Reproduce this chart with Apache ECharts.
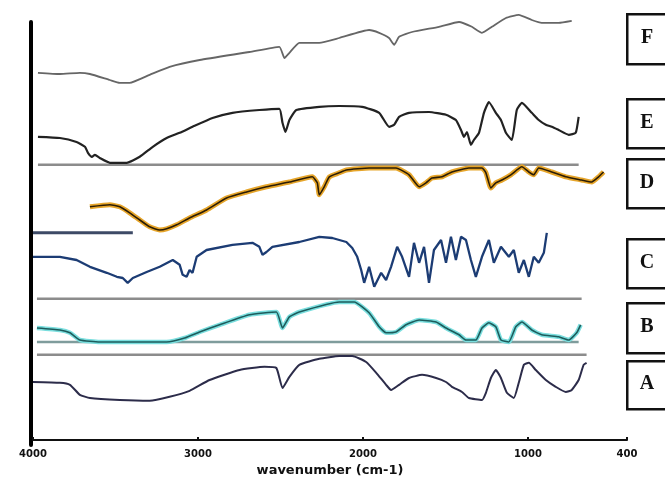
<!DOCTYPE html>
<html>
<head>
<meta charset="utf-8">
<script src="https://cdn.jsdelivr.net/npm/echarts@6/dist/echarts.min.js"></script>
<style>
  html, body { margin: 0; padding: 0; background: #fff; }
  #mainChart { width: 665px; height: 484px; }
</style>
</head>
<body>
<div id="mainChart"></div>
<script>
// wavenumber (cm-1) and stacked transmittance (arbitrary, offset) for each spectrum
var wnF = [3970, 3837, 3716, 3655, 3534, 3474, 3414, 3293, 3172, 2990, 2688, 2507, 2476, 2446, 2386, 2265, 2144, 1963, 1902, 1842, 1811, 1781, 1703, 1539, 1418, 1340, 1279, 1219, 1134, 1056, 977, 917, 814, 735];
var tF = [91.8, 91.5, 91.8, 91.5, 90, 89.3, 89.3, 91.3, 93.3, 95, 97, 98.3, 95.5, 96.8, 99.3, 99.3, 100.5, 102.5, 101.8, 100.5, 98.8, 100.8, 102, 103.3, 104.5, 103.3, 101.8, 103.3, 105.5, 106.3, 105, 104.3, 104.3, 104.8];

var wnE = [3970, 3837, 3736, 3685, 3667, 3643, 3625, 3595, 3534, 3432, 3353, 3274, 3190, 3111, 3033, 2912, 2791, 2628, 2507, 2488, 2470, 2446, 2404, 2265, 2144, 2005, 1902, 1842, 1811, 1781, 1721, 1600, 1497, 1437, 1406, 1388, 1370, 1346, 1328, 1297, 1267, 1237, 1195, 1164, 1134, 1098, 1068, 1037, 977, 935, 892, 856, 814, 753, 711, 693];
var tE = [75.8, 75.5, 74.5, 73.3, 71.8, 70.8, 71.3, 70.5, 69.3, 69.3, 70.8, 73.3, 75.5, 76.8, 78.3, 80.5, 81.8, 82.5, 82.8, 79.3, 77, 80, 82.5, 83.3, 83.5, 83.3, 81.8, 78.3, 78.8, 80.8, 81.8, 82, 81.3, 80, 77.5, 75.8, 77, 73.8, 75, 76.8, 81.8, 84.5, 81.8, 80, 76.8, 75, 82.5, 84.3, 81.8, 80, 78.8, 78.3, 77.5, 76.3, 76.8, 80.8];

var wnD = [3655, 3534, 3474, 3414, 3353, 3293, 3232, 3190, 3129, 3051, 2948, 2827, 2706, 2585, 2446, 2307, 2277, 2265, 2235, 2204, 2144, 2101, 1963, 1800, 1721, 1660, 1618, 1582, 1521, 1461, 1358, 1279, 1255, 1225, 1195, 1158, 1104, 1037, 995, 965, 935, 856, 771, 675, 614, 572, 542];
var tD = [58.3, 58.8, 58.3, 56.8, 55, 53.3, 52.5, 52.8, 53.8, 55.5, 57.5, 60.5, 62, 63.3, 64.5, 65.8, 64.3, 61.3, 63.3, 65.8, 66.8, 67.5, 68, 68, 66.3, 63.3, 64.3, 65.5, 65.8, 67, 68, 68, 66.8, 63, 64.3, 65, 66.3, 68.3, 67, 66.3, 68, 67, 65.8, 65, 64.5, 65.8, 67];

var wnC = [4000, 3837, 3736, 3655, 3553, 3492, 3456, 3426, 3395, 3311, 3232, 3153, 3111, 3093, 3069, 3051, 3033, 3008, 2948, 2791, 2670, 2628, 2609, 2585, 2549, 2386, 2265, 2186, 2101, 2065, 2035, 2011, 1993, 1963, 1932, 1890, 1860, 1830, 1793, 1763, 1721, 1691, 1660, 1630, 1600, 1570, 1527, 1497, 1467, 1437, 1406, 1376, 1346, 1316, 1279, 1237, 1207, 1164, 1116, 1086, 1056, 1025, 995, 965, 935, 904, 886];
var tC = [45.8, 45.8, 45, 43.3, 41.8, 40.8, 40.5, 39.3, 40.5, 42, 43.3, 45, 43.8, 41.3, 40.8, 42.5, 41.8, 45.8, 47.5, 48.8, 49.3, 48.3, 46.3, 47, 48.3, 49.5, 50.8, 50.5, 49.5, 48, 45.8, 42.5, 39.3, 43.3, 38.3, 41.8, 40, 43.3, 48.3, 45.8, 40.8, 49.3, 44.3, 48.3, 39.3, 47.5, 50, 44.3, 50.8, 45, 50.8, 50, 45, 40.8, 45.8, 50, 44.3, 48.3, 45.8, 47.5, 41.8, 45, 40.8, 45.8, 44.3, 46.8, 51.8];

var wnB = [3976, 3837, 3776, 3716, 3595, 3190, 3081, 2990, 2869, 2688, 2525, 2488, 2446, 2386, 2144, 2053, 1963, 1902, 1860, 1800, 1739, 1660, 1557, 1497, 1418, 1376, 1316, 1279, 1237, 1195, 1164, 1116, 1074, 1037, 977, 917, 814, 753, 705, 681];
var tB = [28, 27.5, 26.8, 25, 24.5, 24.5, 25.5, 27, 28.8, 31.3, 32, 28, 30.8, 32, 34.5, 34.5, 31.8, 28.3, 26.8, 27, 28.8, 30, 29.5, 28, 26.3, 25, 25, 28, 29.3, 28.3, 25, 24.5, 28.3, 29.5, 27.5, 26.3, 25.8, 25, 26.8, 28.8];

var wnA = [4000, 3837, 3776, 3716, 3655, 3474, 3293, 3172, 3051, 2930, 2748, 2597, 2525, 2488, 2446, 2386, 2265, 2144, 2065, 1981, 1920, 1860, 1830, 1781, 1721, 1642, 1557, 1497, 1461, 1400, 1358, 1279, 1255, 1225, 1195, 1164, 1128, 1086, 1056, 1025, 995, 953, 892, 832, 771, 735, 693, 663, 645];
var tA = [14.5, 14.3, 13.8, 11.3, 10.5, 10, 9.8, 10.8, 12.3, 15, 17.5, 18.3, 18, 13, 15.8, 18.8, 20.3, 21, 21, 19.5, 16.8, 13.8, 12.5, 13.8, 15.5, 16.3, 15.5, 14.5, 13.3, 12, 10.5, 10, 11.8, 15.5, 17.5, 15.5, 11.8, 10.5, 14.3, 18.8, 19.3, 17.5, 15, 13.3, 12, 12.5, 15, 18.8, 19.3];

// separator lines between the stacked traces: [from, to] wavenumber and level
var sepFrom = [3970, 4000, 3976, 3976, 3976];
var sepTo = [693, 3395, 675, 693, 645];
var sepLevel = [68.8, 51.8, 35.3, 24.5, 21.3];

var xTicks = [4000, 3000, 2000, 1000, 400];
var panelLabels = ["F", "E", "D", "C", "B", "A"];

function pairs(xs, ys) {
  return xs.map(function (x, i) { return [x, ys[i]]; });
}

var chart = echarts.init(document.getElementById("mainChart"));

function trace(data, color, width, z, smooth) {
  return {
    type: "line",
    data: data,
    symbol: "none",
    clip: false,
    smooth: smooth,
    z: z,
    silent: true,
    animation: false,
    lineStyle: { color: color, width: width },
  };
}

var sepColors = ["#8c8c8c", "#3d4a66", "#8c8c8c", "#7f9c9c", "#8c8c8c"];
var sepWidths = [2.5, 3, 2.5, 2.5, 2.5];
var series = [];
sepLevel.forEach(function (lv, i) {
  series.push(trace([[sepFrom[i], lv], [sepTo[i], lv]], sepColors[i], sepWidths[i], 1, false));
});
series.push(trace(pairs(wnF, tF), "#666666", 1.8, 3, 0.15));
series.push(trace(pairs(wnE, tE), "#222222", 2.2, 3, 0.15));
series.push(trace(pairs(wnD, tD), "#e6a52a", 5, 2, 0.15));
series.push(trace(pairs(wnD, tD), "#2b1d05", 1.6, 3, 0.15));
series.push(trace(pairs(wnC, tC), "#1c3c74", 2.3, 3, 0));
series.push(trace(pairs(wnB, tB), "#7adede", 4.5, 2, 0.15));
series.push(trace(pairs(wnB, tB), "#1d5c5c", 1.6, 3, 0.15));
series.push(trace(pairs(wnA, tA), "#2c2c4a", 2, 3, 0.15));

// label boxes at the right
var boxTops = [13, 98, 158, 238, 302, 360];
var boxHeights = [50, 49, 49, 49, 50, 48];
var graphics = [];
panelLabels.forEach(function (lab, i) {
  graphics.push({
    type: "rect",
    left: 626,
    top: boxTops[i],
    shape: { width: 50, height: boxHeights[i] },
    style: { fill: "#fff", stroke: "#111", lineWidth: 2.5 },
  });
  graphics.push({
    type: "text",
    x: 647,
    y: boxTops[i] + boxHeights[i] / 2,
    style: {
      text: lab,
      font: "bold 20px 'Liberation Serif'",
      fill: "#111",
      align: "center",
      verticalAlign: "middle",
    },
  });
});

var option = {
  backgroundColor: "#fff",
  animation: false,
  grid: { left: 33, right: 38, top: 22, bottom: 39 },
  xAxis: {
    type: "value",
    inverse: true,
    min: 400,
    max: 4000,
    name: "wavenumber (cm-1)",
    nameLocation: "middle",
    nameGap: 19,
    nameTextStyle: { fontFamily: "DejaVu Sans", fontWeight: "bold", fontSize: 13, color: "#111" },
    axisLine: { lineStyle: { color: "#111", width: 2 } },
    axisTick: { customValues: xTicks, inside: true, length: 3, lineStyle: { color: "#111", width: 2 } },
    axisLabel: {
      customValues: xTicks,
      margin: 4,
      fontFamily: "DejaVu Sans",
      fontWeight: "bold",
      fontSize: 10,
      color: "#111",
      formatter: function (v) { return String(v); },
    },
    splitLine: { show: false },
  },
  yAxis: {
    type: "value",
    min: -1.25,
    max: 104.5,
    offset: 2,
    axisLine: { show: true, lineStyle: { color: "#000", width: 4 } },
    axisTick: { show: false },
    axisLabel: { show: false },
    splitLine: { show: false },
  },
  series: series,
  graphic: graphics,
};
chart.setOption(option);
</script>
</body>
</html>
